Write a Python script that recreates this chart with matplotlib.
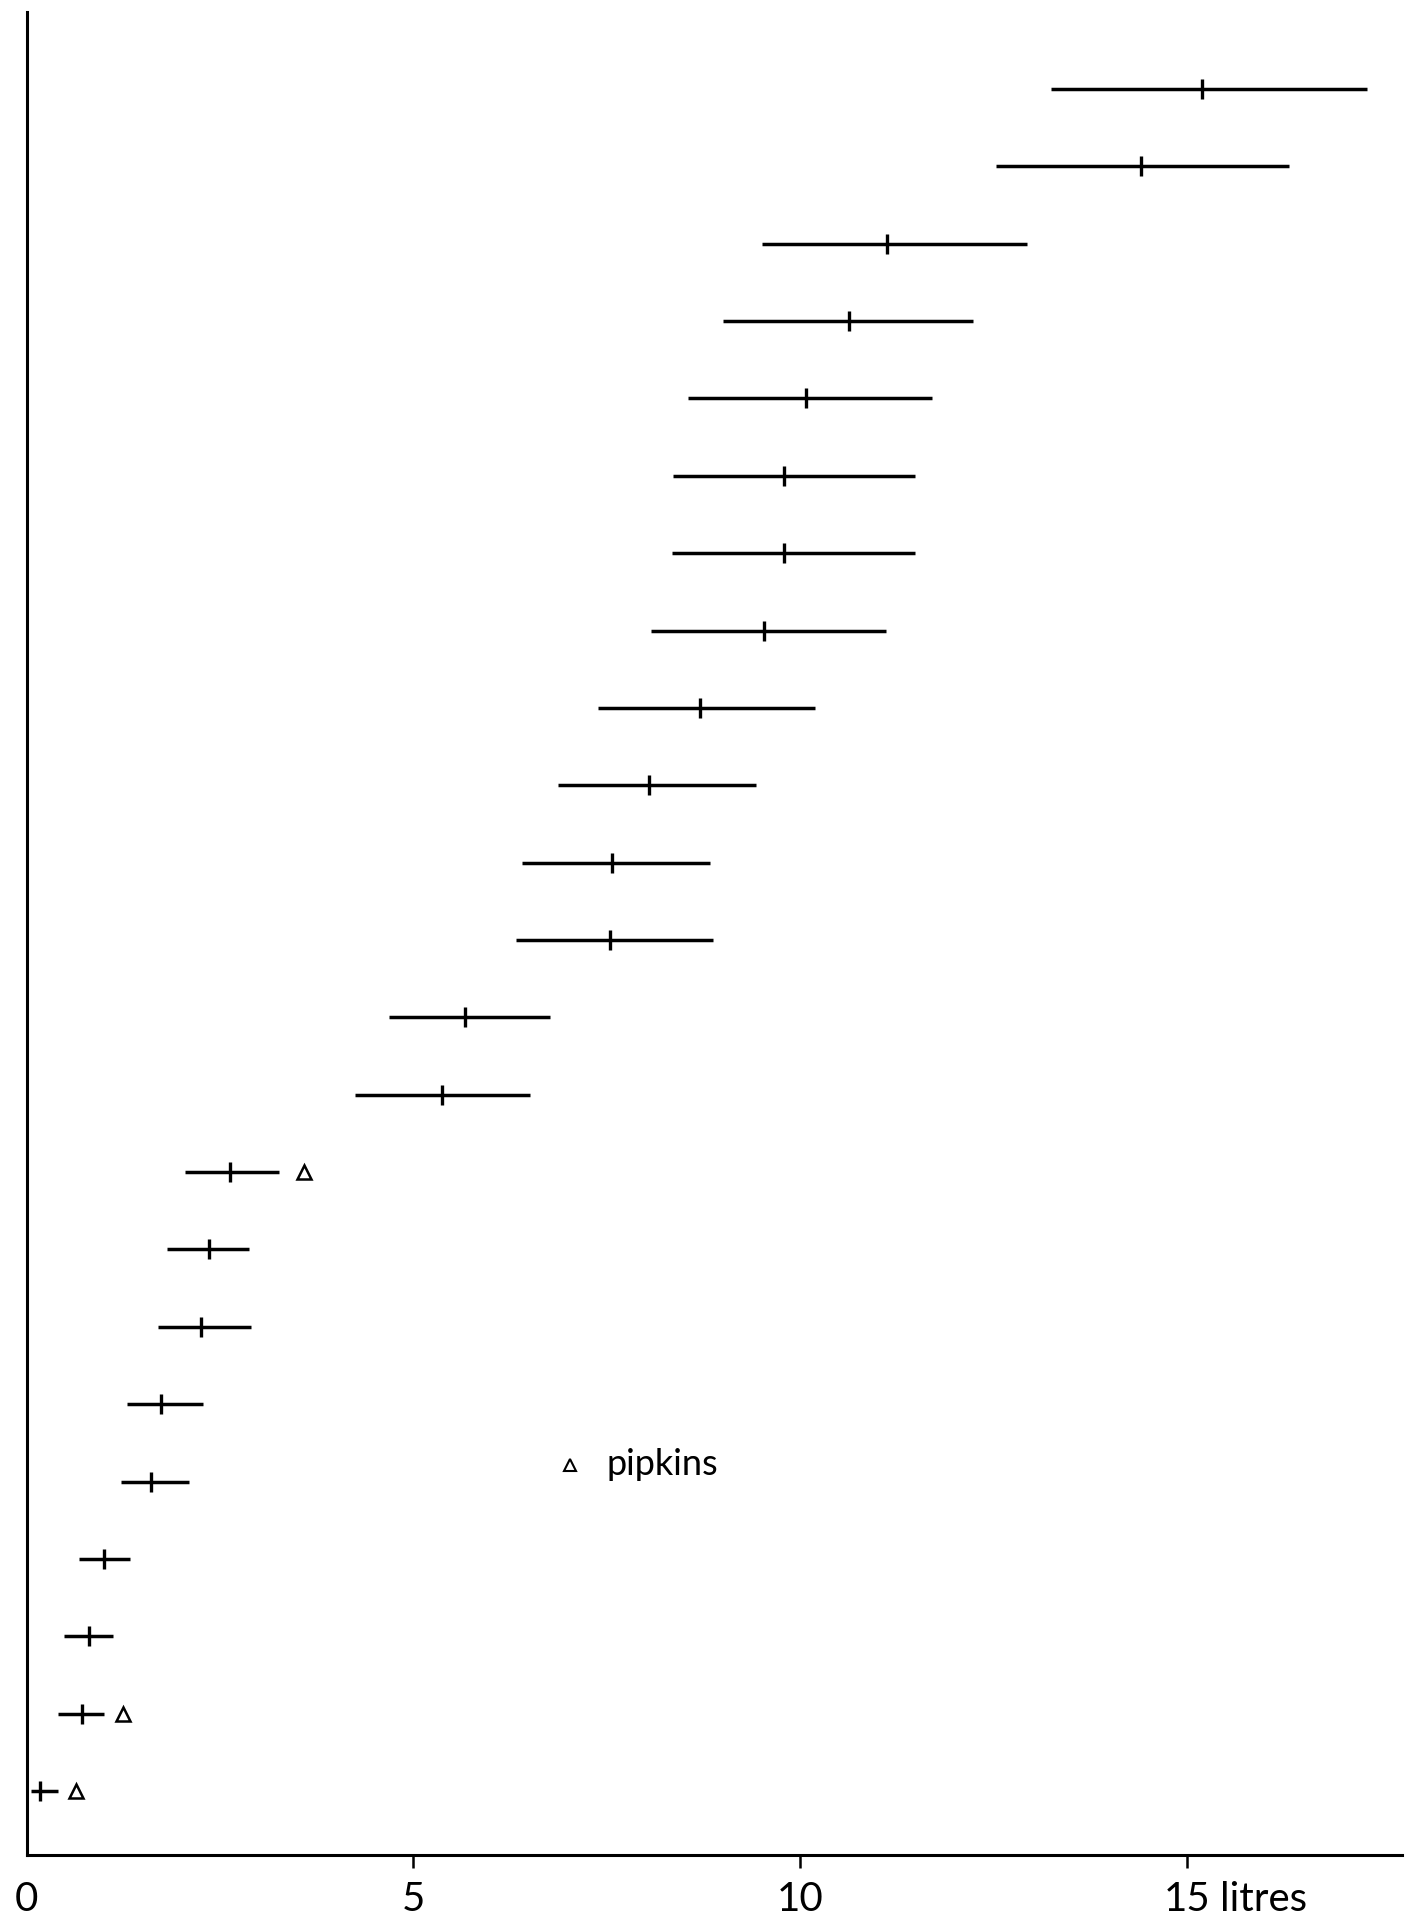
import numpy as np
import matplotlib.pyplot as plt

plt.rcParams['font.family'] = ['Lato', 'DejaVu Sans']

# rows listed bottom to top
row = np.arange(1, 24)
low = [0.05, 0.40, 0.48, 0.68, 1.22, 1.30, 1.69, 1.81, 2.05,
       4.25, 4.68, 6.33, 6.40, 6.87, 7.38, 8.07, 8.34, 8.36, 8.55,
       9.00, 9.51, 12.53, 13.24]
mid = [0.17, 0.71, 0.80, 1.00, 1.61, 1.73, 2.25, 2.35, 2.63,
       5.37, 5.66, 7.54, 7.57, 8.04, 8.70, 9.53, 9.79, 9.79, 10.08,
       10.63, 11.12, 14.41, 15.20]
high = [0.40, 1.00, 1.11, 1.33, 2.10, 2.28, 2.90, 2.87, 3.26,
        6.51, 6.76, 8.88, 8.83, 9.43, 10.19, 11.11, 11.49, 11.49, 11.71,
        12.24, 12.94, 16.32, 17.33]

# pipkins (triangles)
pip_row = [1, 2, 9]
pip_val = [0.64, 1.24, 3.58]

fig = plt.figure(figsize=(14.13, 19.23), dpi=100)
ax = fig.add_axes([0.019, 0.0354, 0.973, 0.9586])

ax.hlines(row, low, high, color='black', lw=2.5)
ax.plot(mid, row, ls='none', marker='|', ms=14, mew=2.4, color='black')
ax.plot(pip_val, pip_row, ls='none', marker='^', ms=10, mfc='white',
        mec='black', mew=1.8)

# key
ax.plot([7.03], [5.22], ls='none', marker='^', ms=8, mfc='white',
        mec='black', mew=1.5)
ax.text(7.5, 5.22, 'pipkins', fontsize=26, va='center', ha='left')

ax.set_xlim(0.05, 17.78)
ax.set_ylim(0.175, 24.0)

for s in ['top', 'right']:
    ax.spines[s].set_visible(False)
ax.spines['left'].set_linewidth(2.2)
ax.spines['bottom'].set_linewidth(2.2)
ax.set_yticks([])
ax.set_xticks([0, 5, 10, 15])
ax.set_xticklabels(['0', '5', '10', '15'])
ax.tick_params(axis='x', length=9, width=1.8, pad=10, labelsize=29)
ax.xaxis.get_major_ticks()[0].tick1line.set_visible(False)
ax.annotate('litres', xy=(15, 0), xycoords=ax.get_xaxis_transform(),
            xytext=(24, -19), textcoords='offset points',
            fontsize=29, ha='left', va='top')

fig.savefig('out.png', dpi=100)
